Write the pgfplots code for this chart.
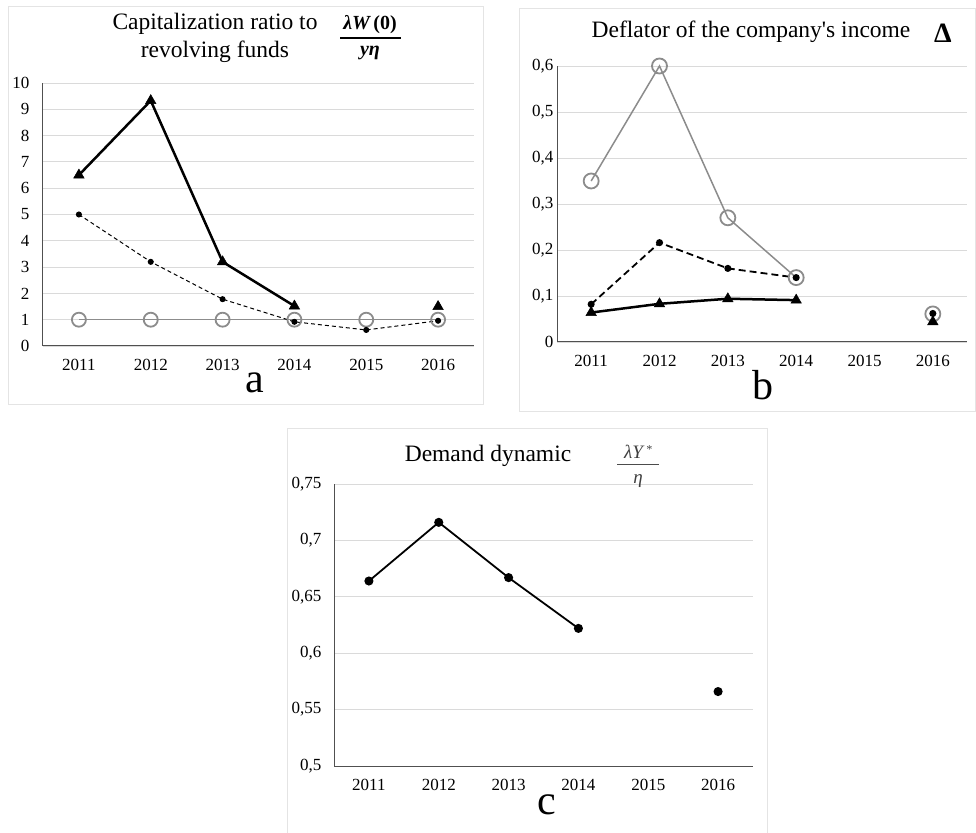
\documentclass[border=0pt]{standalone}
\usepackage{pgfplots}
\pgfplotsset{compat=1.18}
\usepackage{fontspec}
\setmainfont{Liberation Serif}
\definecolor{gridc}{HTML}{DADADA}
\definecolor{axc}{HTML}{505050}
\definecolor{circc}{HTML}{8C8C8C}
\definecolor{framec}{HTML}{E4E4E4}
\pgfplotsset{
  panel/.style={
    scale only axis, clip=false,
    axis lines=left, axis line style={-, draw=axc, line width=1pt},
    xmin=-0.5, xmax=5.5, xtick={0,1,2,3,4,5},
    xticklabels={2011,2012,2013,2014,2015,2016},
    ymajorgrids, grid style={draw=gridc, line width=0.8pt},
    major tick length=0pt,
    tick label style={font=\fontsize{17}{19}\selectfont},
    xticklabel style={yshift=-10pt},
    /pgf/number format/assume math mode=true,
    /pgf/number format/use comma,
    unbounded coords=jump,
  }
}
\begin{document}
\begin{tikzpicture}
\useasboundingbox (0pt,0pt) rectangle (976pt,832pt);
\fill[white] (0pt,0pt) rectangle (976pt,832pt);
% frames
\draw[framec, line width=1pt] (8pt,427pt) rectangle (483pt,825pt);
\draw[framec, line width=1pt] (519pt,420pt) rectangle (975.5pt,823pt);
\draw[framec, line width=1pt] (287pt,-5pt) rectangle (767pt,403pt);

% ---------- panel a ----------
\begin{axis}[panel, at={(43pt,486pt)}, anchor=south west, width=431pt, height=263pt,
  ymin=0, ymax=10, ytick={0,1,2,3,4,5,6,7,8,9,10},
  yticklabel style={xshift=-10pt}]
\addplot[circc, line width=1.5pt, mark=o, mark size=7, mark options={solid, line width=1.8pt}]
  coordinates {(0,1)(1,1)(2,1)(3,1)(4,1)(5,1)};
\addplot[black, line width=1pt, dash pattern=on 4pt off 3pt, mark=*, mark size=2.5, mark options={solid}]
  coordinates {(0,5)(1,3.2)(2,1.78)(3,0.92)(4,0.61)(5,0.96)};
\addplot[black, line width=2.5pt, mark=triangle*, mark size=6, mark options={solid, line width=0.5pt}]
  coordinates {(0,6.5)(1,9.33)(2,3.2)(3,1.52)(4,nan)(5,1.5)};
\end{axis}

% ---------- panel b ----------
\begin{axis}[panel, at={(557pt,490pt)}, anchor=south west, width=410pt, height=276pt,
  ymin=0, ymax=0.6, ytick={0,0.1,0.2,0.3,0.4,0.5,0.6}]
\addplot[circc, line width=1.5pt, mark=o, mark size=7.5, mark options={solid, line width=1.8pt}]
  coordinates {(0,0.35)(1,0.6)(2,0.27)(3,0.14)(4,nan)(5,0.061)};
\addplot[black, line width=1.8pt, dash pattern=on 7pt off 4pt, mark=*, mark size=2.6, mark options={solid}]
  coordinates {(0,0.082)(1,0.216)(2,0.16)(3,0.14)(4,nan)(5,0.062)};
\addplot[black, line width=2.5pt, mark=triangle*, mark size=6, mark options={solid, line width=0.5pt}]
  coordinates {(0,0.064)(1,0.083)(2,0.094)(3,0.091)(4,nan)(5,0.044)};
\end{axis}

% ---------- panel c ----------
\begin{axis}[panel, at={(334pt,66pt)}, anchor=south west, width=419pt, height=282pt,
  ymin=0.5, ymax=0.75, ytick={0.5,0.55,0.6,0.65,0.7,0.75},
  yticklabel style={xshift=-9pt}]
\addplot[black, line width=1.8pt, mark=*, mark size=3.6, mark options={solid}]
  coordinates {(0,0.664)(1,0.716)(2,0.667)(3,0.622)(4,nan)(5,0.566)};
\end{axis}

% ---------- titles ----------
\begin{scope}[every node/.style={font=\fontsize{23.5}{26}\selectfont, inner sep=0pt}]
\node at (215pt,808pt) {Capitalization ratio to};
\node at (215pt,780pt) {revolving funds};
\node at (751pt,800pt) {Deflator of the company\textquotesingle s income};
\node at (488pt,376pt) {Demand dynamic};
\end{scope}
% fraction a
\node[font=\fontsize{20}{22}\selectfont\bfseries, inner sep=0pt] at (370pt,807pt) {\itshape λW\,\upshape(0)};
\draw[line width=1.3pt] (340pt,794pt) -- (401pt,794pt);
\node[font=\fontsize{20}{22}\selectfont\bfseries\itshape, inner sep=0pt] at (370pt,779pt) {yη};
% delta b
\node[font=\fontsize{28}{30}\selectfont\bfseries, inner sep=0pt] at (943pt,799pt) {Δ};
% fraction c
\node[font=\fontsize{19}{22}\selectfont\itshape, text=black!75, inner sep=0pt] at (638pt,380pt) {λY\,\raisebox{5pt}{\fontsize{12}{12}\selectfont *}};
\draw[black!70, line width=1pt] (617pt,367pt) -- (659pt,367pt);
\node[font=\fontsize{19}{22}\selectfont\itshape, text=black!75, inner sep=0pt] at (638pt,351pt) {η};
% panel letters
\node[font=\fontsize{42}{44}\selectfont, inner sep=0pt] at (255pt,449pt) {a};
\node[font=\fontsize{42}{44}\selectfont, inner sep=0pt] at (763pt,447pt) {b};
\node[font=\fontsize{42}{44}\selectfont, inner sep=0pt] at (547pt,27pt) {c};
\end{tikzpicture}
\end{document}
